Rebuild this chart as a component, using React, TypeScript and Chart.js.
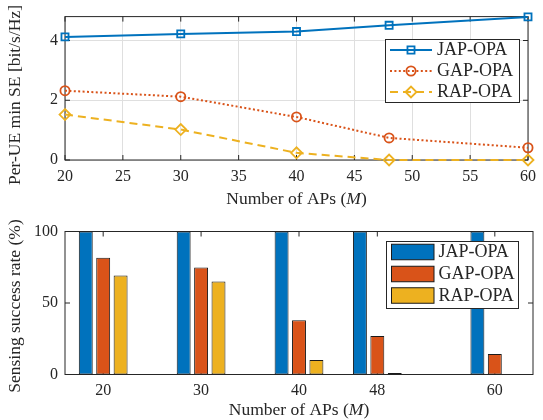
import { useEffect, useRef } from 'react';
import { Chart, registerables } from 'chart.js';

Chart.register(...registerables);

// ---------- data ----------
const apCounts = [20, 30, 40, 48, 60];
const seriesNames = ['JAP-OPA', 'GAP-OPA', 'RAP-OPA'];
const japSE = [4.12, 4.22, 4.3, 4.51, 4.79];
const gapSE = [2.32, 2.12, 1.44, 0.74, 0.41];
const rapSE = [1.52, 1.02, 0.24, 0, 0];
const japRate = [100, 100, 100, 100, 100];
const gapRate = [81.7, 74.8, 38, 26.9, 14.4];
const rapRate = [69.2, 65, 10.2, 1, 0];
const seXTicks = [20, 25, 30, 35, 40, 45, 50, 55, 60];
const seYTicks = [0, 2, 4];
const rateYTicks = [0, 50, 100];
const xTitleParts = ['Number of APs (', 'M', ')'];
const seYTitle = 'Per-UE min SE [bit/s/Hz]';
const rateYTitle = 'Sensing success rate (%)';

// ---------- styles ----------
const FONT = '"Liberation Serif", "Times New Roman", serif';
const AXIS = '#262626';
const COLORS = ['#0072BD', '#D95319', '#EDB120'];
const GRID = '#dfdfdf';
const TITLE_SIZE = 17.5;
const LEGEND_SIZE = 18;

function drawMarker(ctx: CanvasRenderingContext2D, style: string, x: number, y: number, r: number) {
  ctx.beginPath();
  if (style === 'rect') {
    const s = Math.SQRT1_2 * r;
    ctx.rect(x - s, y - s, 2 * s, 2 * s);
  } else if (style === 'circle') {
    ctx.arc(x, y, r, 0, Math.PI * 2);
  } else {
    ctx.moveTo(x - r, y);
    ctx.lineTo(x, y - r);
    ctx.lineTo(x + r, y);
    ctx.lineTo(x, y + r);
    ctx.closePath();
  }
  ctx.stroke();
}

const matlabAxes = {
  id: 'matlabAxes',
  beforeDatasetsDraw(chart: any, _a: any, o: any) {
    const { ctx, chartArea: a, scales } = chart;
    ctx.save();
    ctx.strokeStyle = AXIS;
    ctx.lineWidth = 1;
    ctx.setLineDash([]);
    ctx.strokeRect(a.left, a.top, a.right - a.left, a.bottom - a.top);
    const tl = o.tickLen;
    ctx.beginPath();
    scales.x.ticks.forEach((t: any) => {
      const px = scales.x.getPixelForValue(t.value);
      ctx.moveTo(px, a.bottom);
      ctx.lineTo(px, a.bottom - tl);
      ctx.moveTo(px, a.top);
      ctx.lineTo(px, a.top + tl);
    });
    scales.y.ticks.forEach((t: any) => {
      const py = scales.y.getPixelForValue(t.value);
      ctx.moveTo(a.left, py);
      ctx.lineTo(a.left + tl, py);
      ctx.moveTo(a.right, py);
      ctx.lineTo(a.right - tl, py);
    });
    ctx.stroke();
    ctx.restore();
  },
  afterDraw(chart: any, _a: any, o: any) {
    const { ctx, chartArea: a } = chart;
    ctx.save();
    ctx.fillStyle = AXIS;
    ctx.textBaseline = 'middle';
    // x title with italic M
    const fonts = [`${TITLE_SIZE}px ${FONT}`, `italic ${TITLE_SIZE}px ${FONT}`, `${TITLE_SIZE}px ${FONT}`];
    let total = 0;
    const widths = xTitleParts.map((p, i) => {
      ctx.font = fonts[i];
      const w = ctx.measureText(p).width;
      total += w;
      return w;
    });
    let x = (a.left + a.right) / 2 - total / 2;
    ctx.textAlign = 'left';
    xTitleParts.forEach((p, i) => {
      ctx.font = fonts[i];
      ctx.fillText(p, x, o.xTitleY);
      x += widths[i];
    });
    // y title
    ctx.save();
    ctx.translate(o.yTitleX, o.yTitleY);
    ctx.rotate(-Math.PI / 2);
    ctx.textAlign = 'center';
    ctx.font = `${TITLE_SIZE}px ${FONT}`;
    ctx.fillText(o.yTitle, 0, 0);
    ctx.restore();
    // legend
    const L = o.legend;
    ctx.fillStyle = '#ffffff';
    ctx.fillRect(L.x, L.y, L.w, L.h);
    ctx.strokeStyle = AXIS;
    ctx.lineWidth = 1;
    ctx.strokeRect(L.x, L.y, L.w, L.h);
    chart.data.datasets.forEach((ds: any, i: number) => {
      const ry = L.rows[i];
      if (L.kind === 'line') {
        ctx.strokeStyle = ds.borderColor;
        ctx.lineWidth = ds.borderWidth;
        ctx.setLineDash(ds.borderDash || []);
        ctx.beginPath();
        ctx.moveTo(L.x0, ry);
        ctx.lineTo(L.x1, ry);
        ctx.stroke();
        ctx.setLineDash([]);
        ctx.lineWidth = ds.pointBorderWidth;
        drawMarker(ctx, ds.pointStyle, (L.x0 + L.x1) / 2, ry, ds.pointRadius);
      } else {
        ctx.fillStyle = ds.backgroundColor;
        ctx.fillRect(L.x0, ry - L.ph / 2, L.x1 - L.x0, L.ph);
        ctx.strokeStyle = '#1a1a1a';
        ctx.lineWidth = 1;
        ctx.strokeRect(L.x0, ry - L.ph / 2, L.x1 - L.x0, L.ph);
      }
      ctx.fillStyle = AXIS;
      ctx.font = `${LEGEND_SIZE}px ${FONT}`;
      ctx.textAlign = 'left';
      ctx.fillText(ds.label, L.tx, ry + 0.5);
    });
    ctx.restore();
  },
};

const tickFont = { family: FONT, size: 16 };

function seConfig(): any {
  const series = [japSE, gapSE, rapSE];
  const styles = [
    { pointStyle: 'rect', pointRadius: 5, borderDash: [], borderWidth: 2 },
    { pointStyle: 'circle', pointRadius: 4.6, borderDash: [2, 2.4], borderWidth: 2 },
    { pointStyle: 'rectRot', pointRadius: 5.5, borderDash: [8, 5], borderWidth: 2 },
  ];
  return {
    type: 'line',
    data: {
      datasets: series.map((vals, i) => ({
        label: seriesNames[i],
        data: apCounts.map((x, j) => ({ x, y: vals[j] })),
        borderColor: COLORS[i],
        backgroundColor: COLORS[i],
        pointBackgroundColor: 'rgba(0,0,0,0)',
        pointBorderColor: COLORS[i],
        pointBorderWidth: 1.8,
        borderCapStyle: 'butt',
        clip: false,
        tension: 0,
        ...styles[i],
      })),
    },
    options: {
      responsive: false,
      animation: false,
      devicePixelRatio: 1,
      layout: { padding: { left: 0, right: 10.5, top: 15, bottom: 0 } },
      plugins: {
        legend: { display: false },
        tooltip: { enabled: false },
        matlabAxes: {
          tickLen: 5,
          xTitleY: 199,
          yTitleX: 15,
          yTitleY: 95,
          yTitle: seYTitle,
          legend: { kind: 'line', x: 385.5, y: 39.5, w: 134, h: 63, rows: [50, 71, 92], x0: 390, x1: 432, tx: 437 },
        },
      },
      scales: {
        x: {
          type: 'linear',
          min: 20,
          max: 60,
          offset: false,
          afterBuildTicks: (s: any) => { s.ticks = seXTicks.map((v) => ({ value: v })); },
          afterFit: (s: any) => { s.height = 50; },
          grid: { display: true, color: GRID, drawTicks: false, lineWidth: 1 },
          border: { display: false },
          ticks: { font: tickFont, color: AXIS, padding: 7, maxRotation: 0, autoSkip: false },
        },
        y: {
          type: 'linear',
          min: 0,
          max: 4.8,
          afterBuildTicks: (s: any) => { s.ticks = seYTicks.map((v) => ({ value: v })); },
          afterFit: (s: any) => { s.width = 65; },
          grid: { display: true, color: GRID, drawTicks: false, lineWidth: 1 },
          border: { display: false },
          ticks: { font: tickFont, color: AXIS, padding: 7 },
        },
      },
    },
    plugins: [matlabAxes],
  };
}

function rateConfig(): any {
  const series = [japRate, gapRate, rapRate];
  return {
    type: 'bar',
    data: {
      datasets: series.map((vals, i) => ({
        label: seriesNames[i],
        data: apCounts.map((x, j) => ({ x, y: vals[j] })),
        backgroundColor: COLORS[i],
        borderColor: '#1a1a1a',
        borderWidth: 1,
        borderSkipped: false,
        categoryPercentage: 0.667,
        barPercentage: 0.8,
      })),
    },
    options: {
      responsive: false,
      animation: false,
      devicePixelRatio: 1,
      layout: { padding: { left: 0, right: 10, top: 21.5, bottom: 0 } },
      plugins: {
        legend: { display: false },
        tooltip: { enabled: false },
        matlabAxes: {
          tickLen: 5,
          xTitleY: 200.5,
          yTitleX: 15,
          yTitleY: 96,
          yTitle: rateYTitle,
          legend: { kind: 'bar', x: 386.5, y: 31.5, w: 132, h: 67, rows: [42, 64, 85.5], x0: 391.5, x1: 434, ph: 15.5, tx: 438.5 },
        },
      },
      scales: {
        x: {
          type: 'linear',
          min: 16.1,
          max: 63.9,
          offset: false,
          afterBuildTicks: (s: any) => { s.ticks = apCounts.map((v) => ({ value: v })); },
          afterFit: (s: any) => { s.height = 45.5; },
          grid: { display: false, drawTicks: false },
          border: { display: false },
          ticks: { font: tickFont, color: AXIS, padding: 7, maxRotation: 0, autoSkip: false },
        },
        y: {
          type: 'linear',
          min: 0,
          max: 100,
          afterBuildTicks: (s: any) => { s.ticks = rateYTicks.map((v) => ({ value: v })); },
          afterFit: (s: any) => { s.width = 65; },
          grid: { display: false, drawTicks: false },
          border: { display: false },
          ticks: { font: tickFont, color: AXIS, padding: 7 },
        },
      },
    },
    plugins: [matlabAxes],
  };
}

export default function App() {
  const topRef = useRef<HTMLCanvasElement>(null);
  const botRef = useRef<HTMLCanvasElement>(null);
  useEffect(() => {
    const c1 = new Chart(topRef.current as HTMLCanvasElement, seConfig());
    const c2 = new Chart(botRef.current as HTMLCanvasElement, rateConfig());
    return () => {
      c1.destroy();
      c2.destroy();
    };
  }, []);
  return (
    <div style={{ position: 'absolute', left: 0, top: 0, width: 543, height: 420, background: '#ffffff' }}>
      <canvas ref={topRef} width={543} height={210} style={{ position: 'absolute', left: 0, top: 0, width: 543, height: 210 }} />
      <canvas ref={botRef} width={543} height={210} style={{ position: 'absolute', left: 0, top: 210, width: 543, height: 210 }} />
    </div>
  );
}
